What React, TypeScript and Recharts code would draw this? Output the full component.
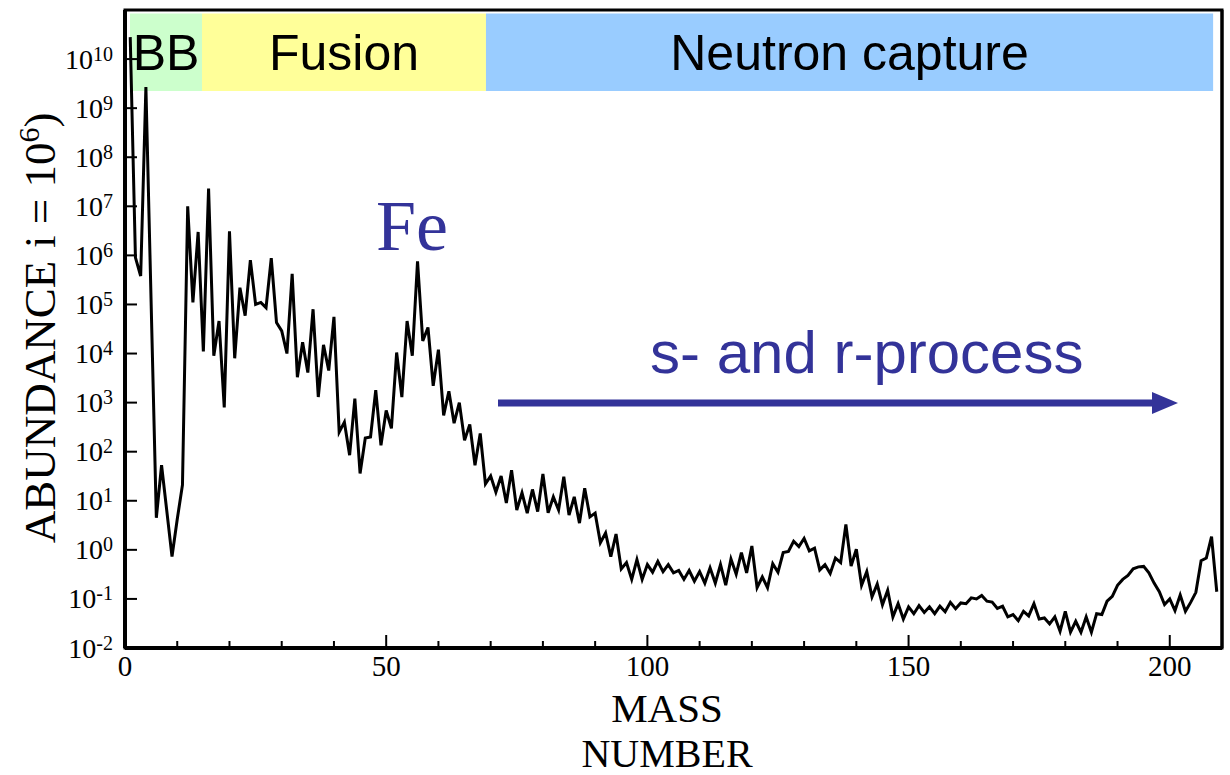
import { LineChart, Line, XAxis, YAxis, ReferenceArea } from 'recharts'

// solar-system abundance per mass number (normalised to Si = 1e6)
const massNumbers = [
  1, 2, 3, 4, 6, 7, 9, 10, 11, 12, 13, 14, 15, 16, 17, 18, 19, 20,
  21, 22, 23, 24, 25, 26, 27, 28, 29, 30, 31, 32, 33, 34, 35, 36, 37, 38, 39, 40,
  41, 42, 43, 44, 45, 46, 47, 48, 49, 50, 51, 52, 53, 54, 55, 56, 57, 58, 59, 60,
  61, 62, 63, 64, 65, 66, 67, 68, 69, 70, 71, 72, 73, 74, 75, 76, 77, 78, 79, 80,
  81, 82, 83, 84, 85, 86, 87, 88, 89, 90, 91, 92, 93, 94, 95, 96, 97, 98, 99, 100,
  101, 102, 103, 104, 105, 106, 107, 108, 109, 110, 111, 112, 113, 114, 115, 116, 117, 118, 119, 120,
  121, 122, 123, 124, 125, 126, 127, 128, 129, 130, 131, 132, 133, 134, 135, 136, 137, 138, 139, 140,
  141, 142, 143, 144, 145, 146, 147, 148, 149, 150, 151, 152, 153, 154, 155, 156, 157, 158, 159, 160,
  161, 162, 163, 164, 165, 166, 167, 168, 169, 170, 171, 172, 173, 174, 175, 176, 177, 178, 179, 180,
  181, 182, 183, 184, 185, 186, 187, 188, 189, 190, 191, 192, 193, 194, 195, 196, 197, 198, 199, 200,
  201, 202, 203, 204, 205, 206, 207, 208, 209,
]

const abundances = [
  2.8e10, 9e5, 3.8e5, 2.7e9, 4.5, 53, 0.73, 4.2, 21, 1e7, 1.1e5, 3e6, 1.1e4, 2.3e7, 9e3, 4.6e4, 800, 3.1e6,
  8e3, 2.2e5, 5.9e4, 8e5, 1e5, 1.1e5, 8.6e4, 8.8e5, 4.3e4, 2.9e4, 1e4, 4.2e5, 3.3e3, 1.7e4, 4.1e3, 8e4, 1.3e3, 1.5e4, 4.5e3, 5.6e4,
  250, 400, 85, 1.2e3, 36, 190, 200, 1.8e3, 135, 690, 300, 1.05e4, 1.3e3, 4.6e4, 9e3, 7.6e5, 1.8e4, 3.4e4, 2.2e3, 1.2e4,
  550, 1.7e3, 380, 1e3, 170, 360, 53, 235, 22, 32, 15, 32, 9, 42, 6.5, 14.5, 5.6, 17, 6, 35,
  5.7, 12, 6.5, 31, 5.1, 12, 3.5, 18, 4.7, 5.6, 1.4, 2.2, 0.73, 2.1, 0.41, 0.55, 0.25, 0.63, 0.25, 0.5,
  0.35, 0.58, 0.36, 0.5, 0.34, 0.38, 0.25, 0.38, 0.23, 0.36, 0.21, 0.43, 0.21, 0.5, 0.19, 0.65, 0.32, 0.88, 0.34, 1.2,
  0.17, 0.28, 0.17, 0.52, 0.35, 0.88, 0.93, 1.5, 1.17, 1.7, 0.95, 1.08, 0.39, 0.5, 0.33, 0.68, 0.55, 3.3, 0.47, 1.03,
  0.19, 0.36, 0.11, 0.2, 0.076, 0.15, 0.043, 0.08, 0.039, 0.069, 0.05, 0.073, 0.053, 0.069, 0.05, 0.071, 0.055, 0.085, 0.063, 0.083,
  0.08, 0.105, 0.1, 0.118, 0.09, 0.086, 0.064, 0.071, 0.043, 0.048, 0.036, 0.056, 0.045, 0.08, 0.039, 0.041, 0.031, 0.043, 0.022, 0.056,
  0.021, 0.035, 0.021, 0.043, 0.021, 0.05, 0.048, 0.09, 0.113, 0.19, 0.25, 0.3, 0.41, 0.45, 0.46, 0.34, 0.21, 0.14, 0.077, 0.1,
  0.058, 0.12, 0.056, 0.085, 0.136, 0.6, 0.68, 1.86, 0.14,
]

const xTicks = [0, 10, 20, 30, 40, 50, 60, 70, 80, 90, 100, 110, 120, 130, 140, 150, 160, 170, 180, 190, 200]
const xLabelled = [0, 50, 100, 150, 200]
const yExponents = [-2, -1, 0, 1, 2, 3, 4, 5, 6, 7, 8, 9, 10]

// nucleosynthesis regions along the mass axis
const regionNames = ['BB', 'Fusion', 'Neutron capture']
const regionStart = [0.96, 14.74, 69.1]
const regionEnd = [14.74, 69.1, 208.3]
const regionColors = ['#ccffcc', '#ffff99', '#99ccff']

const rows = massNumbers.map((mass, i) => ({ mass, abundance: abundances[i] }))
const yTicks = yExponents.map((e) => Math.pow(10, e))

const SERIF = '"Liberation Serif", "Times New Roman", serif'
const SANS = '"Liberation Sans", Arial, sans-serif'
const BLUE = '#333399'

// band strip sits across the top of the plot
const BAND_LOW = Math.pow(10, 9.35)
const BAND_HIGH = Math.pow(10, 10.93)

function YTick({ x, y, payload }: any) {
  const exp = Math.round(Math.log10(payload.value))
  return (
    <g>
      <line x1={x + 12} x2={x + 24} y1={y} y2={y} stroke="#000" strokeWidth={2} />
      <text x={x} y={y + 9.5} textAnchor="end" fontFamily={SERIF} fontSize={28} fill="#000">
        10
        <tspan fontSize={20} dy={-8}>
          {exp}
        </tspan>
      </text>
    </g>
  )
}

function XTick({ x, y, payload }: any) {
  const major = xLabelled.includes(payload.value)
  return (
    <g>
      <line x1={x} x2={x} y1={y} y2={y - (major ? 13 : 7)} stroke="#000" strokeWidth={2} />
      {major && (
        <text x={x} y={y + 28} textAnchor="middle" fontFamily={SERIF} fontSize={29} fill="#000">
          {payload.value}
        </text>
      )}
    </g>
  )
}

export default function App() {
  return (
    <div style={{ position: 'absolute', left: 0, top: 0, width: 1230, height: 775, background: '#fff' }}>
      <LineChart width={1230} height={775} data={rows} margin={{ top: 10, right: 0, bottom: 0, left: 0 }}>
        <XAxis
          type="number"
          dataKey="mass"
          domain={[0, 210]}
          ticks={xTicks}
          interval={0}
          height={127}
          tickSize={0}
          tickMargin={0}
          tickLine={false}
          tick={<XTick />}
          axisLine={{ stroke: '#000', strokeWidth: 4 }}
        />
        <YAxis
          yAxisId="left"
          scale="log"
          domain={[0.01, 1e11]}
          allowDataOverflow
          ticks={yTicks}
          interval={0}
          width={125}
          tickSize={0}
          tickMargin={12}
          tickLine={false}
          tick={<YTick />}
          axisLine={{ stroke: '#000', strokeWidth: 4 }}
        />
        <YAxis
          yAxisId="right"
          orientation="right"
          scale="log"
          domain={[0.01, 1e11]}
          allowDataOverflow
          ticks={yTicks}
          interval={0}
          width={8}
          tickSize={-13}
          tick={false}
          tickLine={{ stroke: '#000', strokeWidth: 2 }}
          axisLine={{ stroke: '#000', strokeWidth: 3 }}
        />
        <Line
          yAxisId="left"
          type="linear"
          dataKey="abundance"
          stroke="#000"
          strokeWidth={3}
          dot={false}
          isAnimationActive={false}
        />
        {regionNames.map((name, i) => (
          <ReferenceArea
            key={name}
            yAxisId="left"
            x1={regionStart[i]}
            x2={regionEnd[i]}
            y1={BAND_LOW}
            y2={BAND_HIGH}
            fill={regionColors[i]}
            fillOpacity={1}
            stroke="none"
            label={{ value: name, position: 'center', fontSize: 50, fontFamily: SANS, fill: '#000' }}
          />
        ))}
        <ReferenceArea
          yAxisId="left"
          x1={0}
          x2={210}
          y1={0.01}
          y2={1e11}
          fill="none"
          stroke="#000"
          strokeWidth={3}
        />
      </LineChart>
      <svg
        width={1230}
        height={775}
        style={{ position: 'absolute', left: 0, top: 0, pointerEvents: 'none' }}
      >
        <text x={376} y={250} fontFamily={SERIF} fontSize={72} fill={BLUE}>
          Fe
        </text>
        <text x={650} y={373} fontFamily={SANS} fontSize={60} fill={BLUE}>
          s- and r-process
        </text>
        <line x1={498} x2={1155} y1={403} y2={403} stroke={BLUE} strokeWidth={7} />
        <polygon points="1152,392 1178,403 1152,414" fill={BLUE} />
        <text x={667} y={722} textAnchor="middle" fontFamily={SERIF} fontSize={41} fill="#000">
          MASS
        </text>
        <text x={667} y={767} textAnchor="middle" fontFamily={SERIF} fontSize={40} fill="#000">
          NUMBER
        </text>
        <text
          x={55}
          y={402}
          transform="rotate(-90 55 402)"
          textAnchor="middle"
          fontFamily={SERIF}
          fontSize={45}
          fill="#000"
        >
          ABUNDANCE
        </text>
        <text
          x={55}
          y={248}
          transform="rotate(-90 55 248)"
          fontFamily={SERIF}
          fontSize={45}
          fill="#000"
        >
          i = 10
          <tspan fontSize={30} dy={-16}>
            6
          </tspan>
          <tspan dy={16}>)</tspan>
        </text>
      </svg>
    </div>
  )
}
